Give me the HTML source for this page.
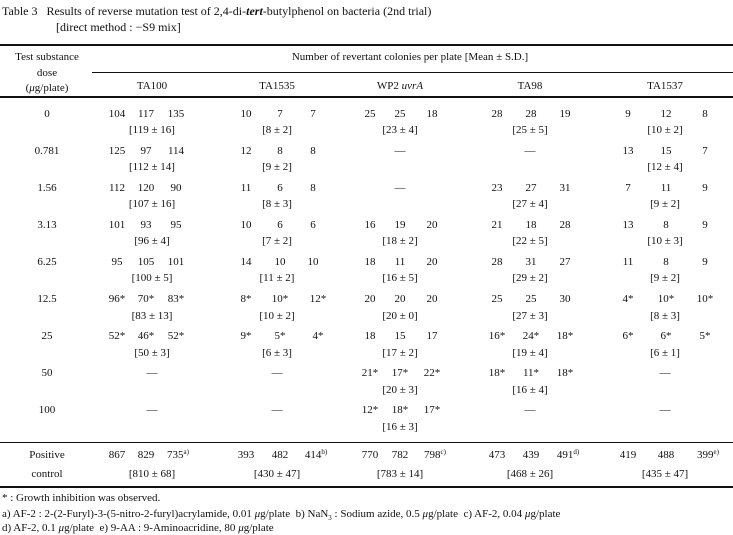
<!DOCTYPE html>
<html><head><meta charset="utf-8"><style>
body{margin:0;width:733px;height:535px;background:#fff;position:relative;overflow:hidden;font-family:"Liberation Serif","Noto Serif CJK SC",serif;color:#111;font-size:11px}
.r{position:absolute;left:0;width:733px;height:14px;line-height:14px}
.r span{position:absolute;transform:translateX(-50%);white-space:nowrap}
.l{position:absolute;background:#111}
.t{position:absolute;white-space:nowrap;line-height:14px}
sup{font-size:7px;vertical-align:top;line-height:8px}
</style></head><body>
<div class="t" style="left:2px;top:4px;font-size:12px">Table 3&nbsp;&nbsp;&nbsp;Results of reverse mutation test of 2,4-di-<b><i>tert</i></b>-butylphenol on bacteria (2nd trial)</div>
<div class="t" style="left:56px;top:20px;font-size:12px">[direct method : −S9 mix]</div>
<div class="l" style="left:0;top:44px;width:733px;height:2px"></div>
<div class="l" style="left:92px;top:72px;width:641px;height:1px"></div>
<div class="l" style="left:0;top:96px;width:733px;height:2px"></div>
<div class="l" style="left:0;top:442px;width:733px;height:1px"></div>
<div class="l" style="left:0;top:486px;width:733px;height:2px"></div>

<div class="r" style="top:50px"><span style="left:47px">Test substance</span><span style="left:410px">Number of revertant colonies per plate [Mean ± S.D.]</span></div>
<div class="r" style="top:66px"><span style="left:47px">dose</span></div>
<div class="r" style="top:81px"><span style="left:47px">(<i>μ</i>g/plate)</span></div>
<div class="r" style="top:79px"><span style="left:152px">TA100</span><span style="left:277px">TA1535</span><span style="left:400px">WP2 <i>uvrA</i></span><span style="left:530px">TA98</span><span style="left:665px">TA1537</span></div>

<div class="r" style="top:107px"><span style="left:47px">0</span><span style="left:117px">104</span><span style="left:146px">117</span><span style="left:176px">135</span><span style="left:246px">10</span><span style="left:280px">7</span><span style="left:313px">7</span><span style="left:370px">25</span><span style="left:400px">25</span><span style="left:432px">18</span><span style="left:497px">28</span><span style="left:531px">28</span><span style="left:565px">19</span><span style="left:628px">9</span><span style="left:666px">12</span><span style="left:705px">8</span></div>
<div class="r" style="top:123px"><span style="left:152px">[119 ± 16]</span><span style="left:277px">[8 ± 2]</span><span style="left:400px">[23 ± 4]</span><span style="left:530px">[25 ± 5]</span><span style="left:665px">[10 ± 2]</span></div>

<div class="r" style="top:144px"><span style="left:47px">0.781</span><span style="left:117px">125</span><span style="left:146px">97</span><span style="left:176px">114</span><span style="left:246px">12</span><span style="left:280px">8</span><span style="left:313px">8</span><span style="left:400px">—</span><span style="left:530px">—</span><span style="left:628px">13</span><span style="left:666px">15</span><span style="left:705px">7</span></div>
<div class="r" style="top:160px"><span style="left:152px">[112 ± 14]</span><span style="left:277px">[9 ± 2]</span><span style="left:665px">[12 ± 4]</span></div>

<div class="r" style="top:181px"><span style="left:47px">1.56</span><span style="left:117px">112</span><span style="left:146px">120</span><span style="left:176px">90</span><span style="left:246px">11</span><span style="left:280px">6</span><span style="left:313px">8</span><span style="left:400px">—</span><span style="left:497px">23</span><span style="left:531px">27</span><span style="left:565px">31</span><span style="left:628px">7</span><span style="left:666px">11</span><span style="left:705px">9</span></div>
<div class="r" style="top:197px"><span style="left:152px">[107 ± 16]</span><span style="left:277px">[8 ± 3]</span><span style="left:530px">[27 ± 4]</span><span style="left:665px">[9 ± 2]</span></div>

<div class="r" style="top:218px"><span style="left:47px">3.13</span><span style="left:117px">101</span><span style="left:146px">93</span><span style="left:176px">95</span><span style="left:246px">10</span><span style="left:280px">6</span><span style="left:313px">6</span><span style="left:370px">16</span><span style="left:400px">19</span><span style="left:432px">20</span><span style="left:497px">21</span><span style="left:531px">18</span><span style="left:565px">28</span><span style="left:628px">13</span><span style="left:666px">8</span><span style="left:705px">9</span></div>
<div class="r" style="top:234px"><span style="left:152px">[96 ± 4]</span><span style="left:277px">[7 ± 2]</span><span style="left:400px">[18 ± 2]</span><span style="left:530px">[22 ± 5]</span><span style="left:665px">[10 ± 3]</span></div>

<div class="r" style="top:255px"><span style="left:47px">6.25</span><span style="left:117px">95</span><span style="left:146px">105</span><span style="left:176px">101</span><span style="left:246px">14</span><span style="left:280px">10</span><span style="left:313px">10</span><span style="left:370px">18</span><span style="left:400px">11</span><span style="left:432px">20</span><span style="left:497px">28</span><span style="left:531px">31</span><span style="left:565px">27</span><span style="left:628px">11</span><span style="left:666px">8</span><span style="left:705px">9</span></div>
<div class="r" style="top:271px"><span style="left:152px">[100 ± 5]</span><span style="left:277px">[11 ± 2]</span><span style="left:400px">[16 ± 5]</span><span style="left:530px">[29 ± 2]</span><span style="left:665px">[9 ± 2]</span></div>

<div class="r" style="top:292px"><span style="left:47px">12.5</span><span style="left:117px">96*</span><span style="left:146px">70*</span><span style="left:176px">83*</span><span style="left:246px">8*</span><span style="left:280px">10*</span><span style="left:318px">12*</span><span style="left:370px">20</span><span style="left:400px">20</span><span style="left:432px">20</span><span style="left:497px">25</span><span style="left:531px">25</span><span style="left:565px">30</span><span style="left:628px">4*</span><span style="left:666px">10*</span><span style="left:705px">10*</span></div>
<div class="r" style="top:309px"><span style="left:152px">[83 ± 13]</span><span style="left:277px">[10 ± 2]</span><span style="left:400px">[20 ± 0]</span><span style="left:530px">[27 ± 3]</span><span style="left:665px">[8 ± 3]</span></div>

<div class="r" style="top:329px"><span style="left:47px">25</span><span style="left:117px">52*</span><span style="left:146px">46*</span><span style="left:176px">52*</span><span style="left:246px">9*</span><span style="left:280px">5*</span><span style="left:318px">4*</span><span style="left:370px">18</span><span style="left:400px">15</span><span style="left:432px">17</span><span style="left:497px">16*</span><span style="left:531px">24*</span><span style="left:565px">18*</span><span style="left:628px">6*</span><span style="left:666px">6*</span><span style="left:705px">5*</span></div>
<div class="r" style="top:346px"><span style="left:152px">[50 ± 3]</span><span style="left:277px">[6 ± 3]</span><span style="left:400px">[17 ± 2]</span><span style="left:530px">[19 ± 4]</span><span style="left:665px">[6 ± 1]</span></div>

<div class="r" style="top:366px"><span style="left:47px">50</span><span style="left:152px">—</span><span style="left:277px">—</span><span style="left:370px">21*</span><span style="left:400px">17*</span><span style="left:432px">22*</span><span style="left:497px">18*</span><span style="left:531px">11*</span><span style="left:565px">18*</span><span style="left:665px">—</span></div>
<div class="r" style="top:383px"><span style="left:400px">[20 ± 3]</span><span style="left:530px">[16 ± 4]</span></div>

<div class="r" style="top:403px"><span style="left:47px">100</span><span style="left:152px">—</span><span style="left:277px">—</span><span style="left:370px">12*</span><span style="left:400px">18*</span><span style="left:432px">17*</span><span style="left:530px">—</span><span style="left:665px">—</span></div>
<div class="r" style="top:420px"><span style="left:400px">[16 ± 3]</span></div>

<div class="r" style="top:448px"><span style="left:47px">Positive</span><span style="left:117px">867</span><span style="left:146px">829</span><span style="left:178px">735<sup>a)</sup></span><span style="left:246px">393</span><span style="left:280px">482</span><span style="left:316px">414<sup>b)</sup></span><span style="left:370px">770</span><span style="left:400px">782</span><span style="left:435px">798<sup>c)</sup></span><span style="left:497px">473</span><span style="left:531px">439</span><span style="left:568px">491<sup>d)</sup></span><span style="left:628px">419</span><span style="left:666px">488</span><span style="left:708px">399<sup>e)</sup></span></div>
<div class="r" style="top:467px"><span style="left:47px">control</span><span style="left:152px">[810 ± 68]</span><span style="left:277px">[430 ± 47]</span><span style="left:400px">[783 ± 14]</span><span style="left:530px">[468 ± 26]</span><span style="left:665px">[435 ± 47]</span></div>

<div class="t" style="left:2px;top:491px">* : Growth inhibition was observed.</div>
<div class="t" style="left:2px;top:507px">a) AF-2 : 2-(2-Furyl)-3-(5-nitro-2-furyl)acrylamide, 0.01 <i>μ</i>g/plate&nbsp;&nbsp;b) NaN<sub style="font-size:7px">3</sub> : Sodium azide, 0.5 <i>μ</i>g/plate&nbsp;&nbsp;c) AF-2, 0.04 <i>μ</i>g/plate</div>
<div class="t" style="left:2px;top:521px">d) AF-2, 0.1 <i>μ</i>g/plate&nbsp;&nbsp;e) 9-AA : 9-Aminoacridine, 80 <i>μ</i>g/plate</div>
</body></html>
